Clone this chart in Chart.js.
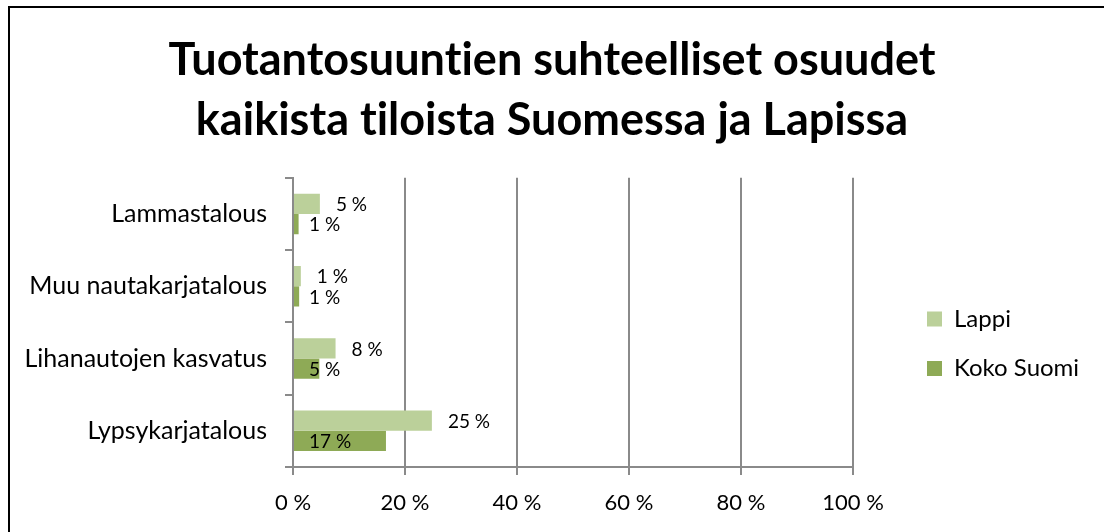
<!DOCTYPE html>
<html>
<head>
<meta charset="utf-8">
<script src="https://cdn.jsdelivr.net/npm/chart.js@4"></script>
<style>
  html, body { margin: 0; padding: 0; background: #fff; overflow: hidden; }
  #wrap { position: relative; width: 1104px; height: 532px; }
  #frame { position: absolute; left: 8px; top: 6px; width: 1200px; height: 700px; border: 2px solid #000; box-sizing: border-box; }
  #c { position: absolute; left: 0; top: 0; }
</style>
</head>
<body>
<div id="wrap">
  <div id="frame"></div>
  <canvas id="c" width="1104" height="532"></canvas>
</div>
<script>
const titleLines = ['Tuotantosuuntien suhteelliset osuudet', 'kaikista tiloista Suomessa ja Lapissa'];
const categories = ['Lammastalous', 'Muu nautakarjatalous', 'Lihanautojen kasvatus', 'Lypsykarjatalous'];
const lappi = [4.8, 1.4, 7.6, 24.8];
const kokoSuomi = [1.0, 1.1, 4.7, 16.6];
const xTicks = [0, 20, 40, 60, 80, 100];

const font = 'Lato';
const gridColor = '#8a8a8a';

// no "ti" ligatures in the title
const plainText = {
    id: 'plainText',
    beforeDraw(chart) {
        chart.ctx.textRendering = 'optimizeSpeed';
    }
};

// value labels: Lappi after the bar end, Koko Suomi from the axis
const valueLabels = {
    id: 'valueLabels',
    afterDatasetsDraw(chart) {
        const ctx = chart.ctx;
        const x0 = chart.scales.x.getPixelForValue(0);
        ctx.save();
        ctx.font = '19px ' + font;
        ctx.fillStyle = '#000';
        ctx.textAlign = 'left';
        ctx.textBaseline = 'middle';
        chart.data.datasets.forEach((ds, i) => {
            chart.getDatasetMeta(i).data.forEach((bar, j) => {
                const x = ds.labelAtBase ? x0 + 16 : bar.x + 16;
                ctx.fillText(Math.round(ds.data[j]) + ' %', x, bar.y + 1);
            });
        });
        ctx.restore();
    }
};

// legend keeps a fixed width on the right, items placed lower and inward
const legendPlace = {
    id: 'legendPlace',
    beforeLayout(chart) {
        const lg = chart.legend;
        if (lg && !lg._wrapped) {
            const fit = lg.fit.bind(lg);
            lg.fit = function () { fit(); this.width = 251; };
            lg._wrapped = true;
        }
    },
    afterLayout(chart) {
        const lg = chart.legend;
        lg.left = chart.chartArea.right + 48.5;
        lg.right = lg.left + 200;
        lg.top = 281.5;
        lg.bottom = lg.top + 200;
        lg.width = 200;
        lg.height = 200;
    }
};

new Chart(document.getElementById('c'), {
    type: 'bar',
    data: {
        labels: categories,
        datasets: [
            { label: 'Lappi', data: lappi, backgroundColor: '#bbd09a', borderWidth: 0, barPercentage: 1.0, categoryPercentage: 0.56 },
            { label: 'Koko Suomi', data: kokoSuomi, backgroundColor: '#8eaa56', borderWidth: 0, barPercentage: 1.0, categoryPercentage: 0.56, labelAtBase: true }
        ]
    },
    options: {
        indexAxis: 'y',
        responsive: false,
        animation: false,
        layout: { padding: 0 },
        scales: {
            x: {
                min: 0, max: 100,
                afterBuildTicks: s => { s.ticks = xTicks.map(v => ({ value: v })); },
                afterFit: s => { s.height = 65; },
                grid: { color: gridColor, lineWidth: 2, drawTicks: true, tickLength: 8 },
                border: { color: gridColor, width: 2 },
                ticks: { color: '#000', padding: 15, font: { family: font, size: 22 }, callback: v => v + ' %' }
            },
            y: {
                afterFit: s => { s.width = 293; },
                grid: { drawOnChartArea: false, drawTicks: true, tickLength: 8, color: gridColor, lineWidth: 2, offset: true },
                border: { color: gridColor, width: 2 },
                ticks: { color: '#000', padding: 18, font: { family: font, size: 25 } }
            }
        },
        plugins: {
            title: {
                display: true,
                text: titleLines,
                color: '#000',
                font: { family: font, size: 45, weight: 'bold', lineHeight: 1.343 },
                padding: { top: 30, bottom: 27 }
            },
            legend: {
                position: 'right',
                align: 'start',
                labels: { boxWidth: 15, boxHeight: 15, padding: 25.5, color: '#000', font: { family: font, size: 24 } }
            },
            tooltip: { enabled: false }
        }
    },
    plugins: [plainText, valueLabels, legendPlace]
});
</script>
</body>
</html>
